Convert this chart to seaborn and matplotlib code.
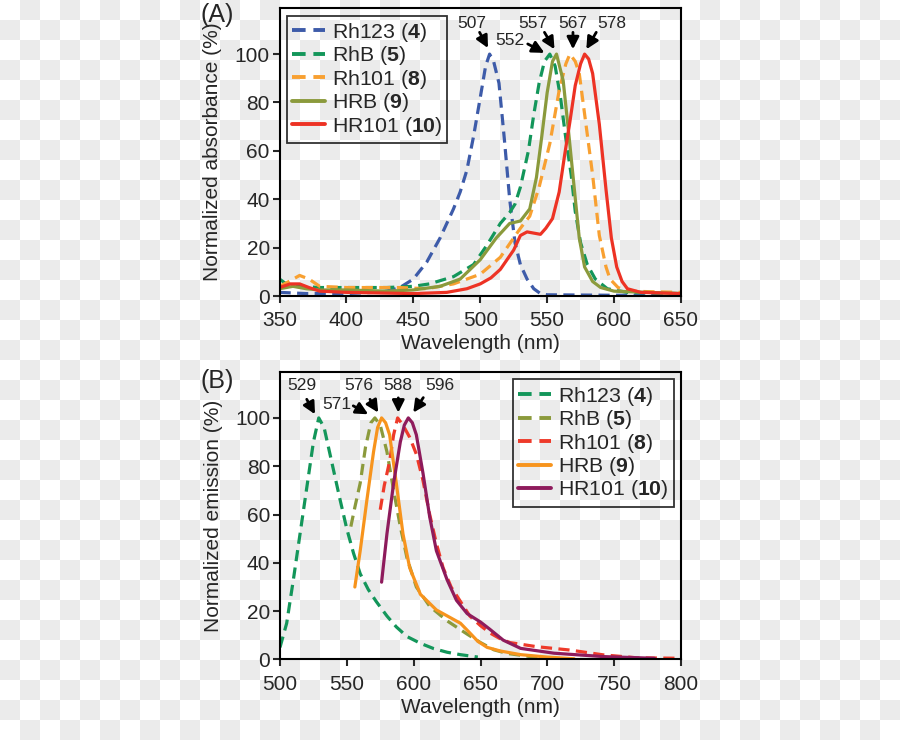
import numpy as np
import pandas as pd
import matplotlib
matplotlib.use("Agg")
import matplotlib.pyplot as plt
from matplotlib.colors import ListedColormap
from matplotlib.lines import Line2D
import seaborn as sns

# ---- panel A: absorbance ----
abs_names = ["Rh123 ($\\mathbf{4}$)", "RhB ($\\mathbf{5}$)", "Rh101 ($\\mathbf{8}$)",
             "HRB ($\\mathbf{9}$)", "HR101 ($\\mathbf{10}$)"]
abs_colors = ["#3d5ba9", "#13965a", "#f8a031", "#8b9a3c", "#ed3224"]
abs_dashed = [True, True, True, False, False]

rh123_abs_x = [350, 370, 400, 420, 430, 440, 450, 460, 470, 475, 480, 485, 490, 495, 500, 504, 507,
               510, 514, 518, 522, 526, 530, 535, 540, 545, 550, 600, 650]
rh123_abs_y = [1.5, 1, 1, 1.5, 2, 3.5, 7, 14, 24, 30, 36, 43, 52, 66, 82, 95, 100,
               97, 88, 65, 40, 22, 13, 7, 3, 1, 0.5, 0.3, 0.3]
rhb_abs_x = [350, 355, 365, 380, 400, 430, 450, 462, 480, 495, 505, 515, 522, 526, 530, 536, 540,
             544, 548, 552, 556, 560, 564, 568, 571, 575, 580, 586, 595, 610, 650]
rhb_abs_y = [7, 5, 4, 3.5, 3.5, 3.5, 4, 5, 8, 13, 21, 30, 34.5, 38, 45, 60, 75,
             88, 97, 100, 95, 82, 65, 50, 35, 22, 13, 7, 3, 1.5, 1]
rh101_abs_x = [350, 357, 365, 372, 380, 400, 440, 460, 480, 500, 515, 530, 537, 544, 552, 559, 564,
               567, 571, 574, 579, 584, 589, 594, 597, 603, 610, 650]
rh101_abs_y = [4, 6, 8.5, 7, 4, 3.5, 3.5, 3, 5, 9, 16, 28, 33, 45, 63, 85, 96,
               100, 97, 92, 71, 50, 25, 12, 7, 3.5, 2, 1.5]
hrb_abs_x = [350, 360, 370, 380, 400, 430, 450, 470, 485, 500, 512, 522, 530, 537, 542, 546, 550,
             554, 557, 562, 566, 570, 574, 578, 584, 590, 600, 650]
hrb_abs_y = [3, 4, 3, 2.5, 2.5, 2, 2.5, 4, 7, 15, 24, 30, 31, 36, 49, 66, 84,
             97, 100, 89, 68, 46, 24, 12, 6, 3.5, 2, 1]
hr101_abs_x = [350, 358, 365, 372, 380, 400, 450, 475, 490, 500, 508, 515, 520, 525, 530, 535, 540,
               545, 549, 554, 559, 563, 567, 571, 575, 578, 581, 584, 589, 594, 598, 602, 606,
               610, 620, 650]
hr101_abs_y = [3.5, 5, 5, 3.5, 2, 1.5, 1, 1.5, 3, 5, 7.5, 11, 15, 19, 25, 26.5, 26,
               25.5, 28, 32, 43, 58, 72, 87, 96, 100, 98, 92, 71, 44, 24, 12, 6,
               3, 1.5, 1]

# peak labels: (text, text pos, arrow tail, arrow tip) in data units
abs_peaks = [("507", (493.5, 112.5), (499.5, 109), (505.8, 102.5)),
             ("552", (522, 105.6), (535.5, 104.2), (548, 100.5)),
             ("557", (539.5, 112.5), (548, 109), (555.5, 102)),
             ("567", (569.3, 112.5), (569.3, 109), (569.3, 102)),
             ("578", (598, 112.5), (586.7, 109), (579.3, 102))]

# ---- panel B: emission ----
em_names = abs_names
em_colors = ["#13965a", "#8b9a3c", "#ee3a2a", "#f7941d", "#8e1b5c"]
em_dashed = [True, True, True, False, False]

rh123_em_x = [500, 505, 510, 515, 520, 525, 529, 533, 537, 541, 545, 550, 555, 560, 566, 572,
              580, 587, 595, 605, 615, 625, 635, 648]
rh123_em_y = [5, 15, 33, 52, 71, 90, 100, 96, 86, 76, 66, 54, 44, 35.5, 29, 24,
              18, 13.5, 9.5, 6.7, 4.5, 3, 2, 1]
rhb_em_x = [553, 556, 560, 564, 568, 571, 575, 580, 585, 590, 595, 602, 612, 625, 640, 650,
            660, 670, 690, 710]
rhb_em_y = [55, 63, 73, 88, 98, 100, 97, 86, 70, 55, 42, 30, 22, 16, 10.5, 7,
            4, 2.5, 1, 0.5]
rh101_em_x = [575, 578, 582, 585, 588, 592, 597, 602, 607, 612, 617, 622, 628, 635, 642, 650,
              657, 665, 672, 692, 717, 742, 767, 800]
rh101_em_y = [62, 72, 82, 93, 100, 97, 92, 85, 74, 60, 48, 38, 30, 24, 18, 14,
              11, 8.5, 7, 5.3, 3.9, 1.9, 0.7, 0.5]
hrb_em_x = [556, 560, 565, 570, 573, 576, 579, 582, 587, 592, 597, 605, 617, 635, 642, 648,
            655, 665, 680, 700, 720]
hrb_em_y = [30, 45, 66, 86, 96, 100, 98, 93, 73, 52, 38, 27, 20.5, 15, 11, 7.5,
            5, 3.5, 2, 1, 0.3]
hr101_em_x = [576, 580, 585, 590, 593, 596, 599, 602, 607, 612, 617, 625, 632, 640, 650, 657,
              667, 680, 705, 742, 780]
hr101_em_y = [32, 52, 73, 90, 97, 100, 98, 93, 77, 59, 45, 33, 24.5, 19, 15.5, 12.5,
              8, 4.6, 2.6, 1.2, 0.5]

em_peaks = [("529", (516, 113.6), (520, 107.7), (526.2, 101.5)),
            ("571", (542.4, 105.6), (554.8, 105), (566, 101.5)),
            ("576", (558.6, 113.6), (567.3, 107.7), (573.5, 102.2)),
            ("588", (588.5, 113.6), (588.5, 108.3), (588.5, 102.2)),
            ("596", (619.7, 113.6), (607.2, 108.4), (599.7, 102.2))]


def long_df(names, xs, ys):
    parts = [pd.DataFrame({"wl": x, "val": y, "dye": n}) for n, x, y in zip(names, xs, ys)]
    return pd.concat(parts, ignore_index=True)


DASH = (3.5, 2)

sns.set_style("ticks")
plt.rcParams["font.family"] = ["Liberation Sans", "DejaVu Sans"]
plt.rcParams["mathtext.fontset"] = "custom"
plt.rcParams["mathtext.rm"] = "Liberation Sans"
plt.rcParams["mathtext.bf"] = "Liberation Sans:bold"
plt.rcParams["axes.facecolor"] = "none"

fig = plt.figure(figsize=(9, 7.4), dpi=100)

# transparent-png checkerboard behind everything
bg = fig.add_axes([0, 0, 1, 1], zorder=-5)
board = np.indices((37, 45)).sum(axis=0) % 2
bg.imshow(board, cmap=ListedColormap(["white", "#ebebeb"]), aspect="auto",
          interpolation="nearest", extent=[0, 900, 740, 0])
bg.axis("off")


def draw_panel(ax, names, colors, dashed, xs, ys, peaks, xlim, xticks, ylabel, tag, loc):
    df = long_df(names, xs, ys)
    pal = dict(zip(names, colors))
    dmap = {n: (DASH if d else "") for n, d in zip(names, dashed)}
    sns.lineplot(data=df, x="wl", y="val", hue="dye", style="dye", hue_order=names,
                 style_order=names, palette=pal, dashes=dmap, estimator=None, sort=False,
                 lw=2.3, legend=False, ax=ax)
    ax.set_xlim(*xlim)
    ax.set_ylim(0, 119)
    ax.set_xticks(xticks)
    ax.set_yticks([0, 20, 40, 60, 80, 100])
    ax.set_xlabel("Wavelength (nm)", fontsize=15, labelpad=3)
    ax.set_ylabel(ylabel, fontsize=15, labelpad=9)
    ax.tick_params(axis="both", labelsize=15, length=5, width=1.5, direction="out")
    ax.tick_params(axis="x", pad=6)
    ax.tick_params(axis="y", pad=2)
    for s in ax.spines.values():
        s.set_linewidth(1.5)
        s.set_color("black")
    for txt, tpos, tail, tip in peaks:
        ax.text(tpos[0], tpos[1], txt, fontsize=12.5, ha="center", va="center")
        ax.annotate("", xy=tip, xytext=tail,
                    arrowprops=dict(arrowstyle="-|>", color="black", lw=2.0,
                                    mutation_scale=18, shrinkA=0, shrinkB=0))
    handles = [Line2D([], [], color=c, lw=2.8, dashes=(DASH if d else (None, None)))
               for c, d in zip(colors, dashed)]
    leg = ax.legend(handles, names, loc=loc, fontsize=15.3, frameon=True, fancybox=False,
                    handlelength=1.55, handletextpad=0.3, labelspacing=0.02,
                    borderpad=0.25, borderaxespad=0.35)
    leg.get_frame().set_edgecolor("black")
    leg.get_frame().set_linewidth(1.3)
    leg.get_frame().set_facecolor("none")
    fig.text(tag[1], tag[2], tag[0], fontsize=18, ha="center", va="center")


ax_a = fig.add_axes([0.3106, 0.6, 0.446, 0.389])
draw_panel(ax_a, abs_names, abs_colors, abs_dashed,
           [rh123_abs_x, rhb_abs_x, rh101_abs_x, hrb_abs_x, hr101_abs_x],
           [rh123_abs_y, rhb_abs_y, rh101_abs_y, hrb_abs_y, hr101_abs_y],
           abs_peaks, (350, 650), range(350, 651, 50),
           "Normalized absorbance (%)", ("(A)", 0.241, 0.980), "upper left")

ax_b = fig.add_axes([0.3111, 0.1088, 0.4456, 0.3885])
draw_panel(ax_b, em_names, em_colors, em_dashed,
           [rh123_em_x, rhb_em_x, rh101_em_x, hrb_em_x, hr101_em_x],
           [rh123_em_y, rhb_em_y, rh101_em_y, hrb_em_y, hr101_em_y],
           em_peaks, (500, 800), range(500, 801, 50),
           "Normalized emission (%)", ("(B)", 0.241, 0.485), "upper right")

fig.savefig("out.png", dpi=100)
